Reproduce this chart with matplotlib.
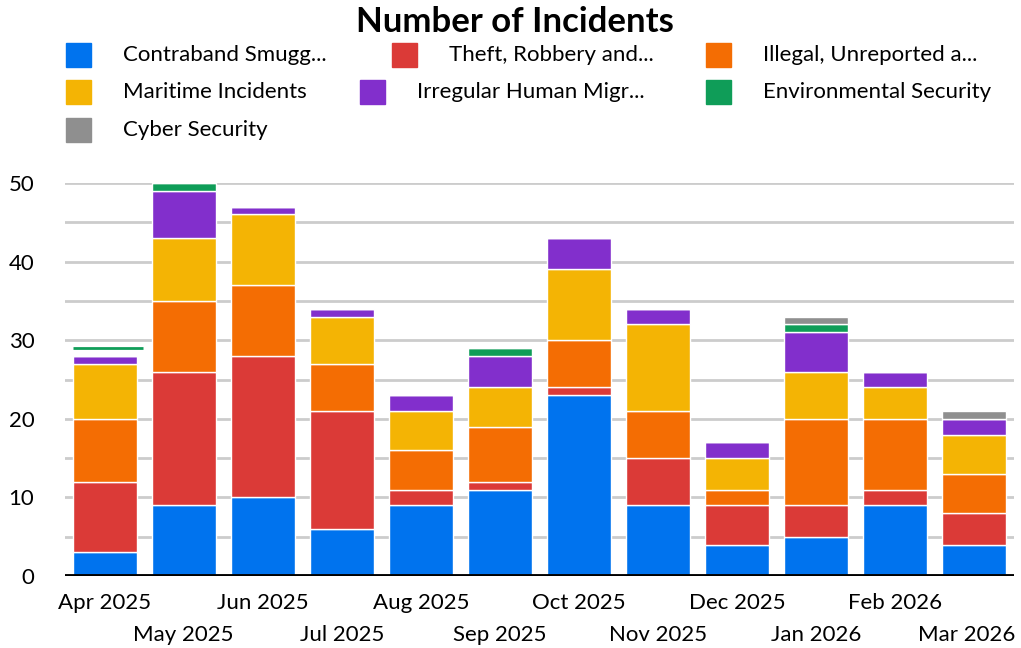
# Stacked bar chart: number of incidents per month by category

import numpy as np
import matplotlib.pyplot as plt
from matplotlib.patches import Rectangle

plt.rcParams['font.family'] = ['Lato', 'DejaVu Sans']

months = ['Apr 2025', 'May 2025', 'Jun 2025', 'Jul 2025', 'Aug 2025', 'Sep 2025',
          'Oct 2025', 'Nov 2025', 'Dec 2025', 'Jan 2026', 'Feb 2026', 'Mar 2026']

contraband = [3, 9, 10, 6, 9, 11, 23, 9, 4, 5, 9, 4]
theft = [9, 17, 18, 15, 2, 1, 1, 6, 5, 4, 2, 4]
illegal_fishing = [8, 9, 9, 6, 5, 7, 6, 6, 2, 11, 9, 5]
maritime = [7, 8, 9, 6, 5, 5, 9, 11, 4, 6, 4, 5]
migration = [1, 6, 1, 1, 2, 4, 4, 2, 2, 5, 2, 2]
environmental = [0, 1, 0, 0, 0, 1, 0, 0, 0, 1, 0, 0]
cyber = [0, 0, 0, 0, 0, 0, 0, 0, 0, 1, 0, 1]

# Apr 2025 environmental entry shows only as a thin line above the stack
env_line_apr = 1

labels = ['Contraband Smugg...', 'Theft, Robbery and...', 'Illegal, Unreported a...',
          'Maritime Incidents', 'Irregular Human Migr...', 'Environmental Security',
          'Cyber Security']
colors = ['#0073ee', '#db3a37', '#f46d03', '#f4b404', '#822fcc', '#0f9d58', '#8f8f8f']
series = [contraband, theft, illegal_fishing, maritime, migration, environmental, cyber]

fig = plt.figure(figsize=(10.21, 6.48), dpi=100)
ax = fig.add_axes([65 / 1021, 1 - 576 / 648, 949 / 1021, 393 / 648])

x = np.arange(len(months))
bottom = np.zeros(len(months))
for vals, col in zip(series, colors):
    vals = np.array(vals, dtype=float)
    ax.bar(x, vals, bottom=bottom, width=0.81, color=col, edgecolor='white',
           linewidth=1.0, zorder=3, clip_on=False)
    bottom += vals

# thin environmental line for April
apr_top = bottom[0] + env_line_apr
ax.plot([x[0] - 0.405, x[0] + 0.49], [apr_top, apr_top], color=colors[5], lw=2,
        zorder=4, solid_capstyle='butt')

ax.set_xlim(-0.5, len(months) - 0.5)
ax.set_ylim(0, 50)
ax.set_yticks(np.arange(0, 51, 10))
ax.set_yticks(np.arange(5, 50, 10), minor=True)
ax.grid(axis='y', which='both', color='#cccccc', lw=2, zorder=0)
ax.axhline(0, color='black', lw=3.5, zorder=5)
for s in ax.spines.values():
    s.set_visible(False)
ax.tick_params(axis='both', which='both', length=0)
ax.tick_params(axis='y', labelsize=16, pad=22)
ax.set_xticks(x)
ax.set_xticklabels([])

# month labels staggered on two rows; last one kept inside the figure
for i, m in enumerate(months):
    dy = -19.5 if i % 2 == 0 else -42.5
    if i == len(months) - 1:
        ax.annotate(m, xy=(1, 0), xycoords='axes fraction', xytext=(1, dy),
                    textcoords='offset points', ha='right', va='center', fontsize=16)
    else:
        ax.annotate(m, xy=(x[i], 0), xycoords=('data', 'axes fraction'),
                    xytext=(0, dy), textcoords='offset points',
                    ha='center', va='center', fontsize=16)

fig.text(515 / 1021, 1 - 22 / 648, 'Number of Incidents', ha='center', va='center',
         fontsize=25, fontweight='bold')

# legend laid out manually like the original
leg_pos = [(66, 55), (392, 55), (706, 55), (66, 92), (360, 92), (706, 92), (66, 130)]
for (lx, ly), lab, col in zip(leg_pos, labels, colors):
    fig.patches.append(Rectangle((lx / 1021, 1 - (ly + 12) / 648), 25 / 1021, 24 / 648,
                                 transform=fig.transFigure, color=col))
    fig.text((lx + 57) / 1021, 1 - ly / 648, lab, ha='left', va='center', fontsize=16)

fig.savefig('out.png', dpi=100)
